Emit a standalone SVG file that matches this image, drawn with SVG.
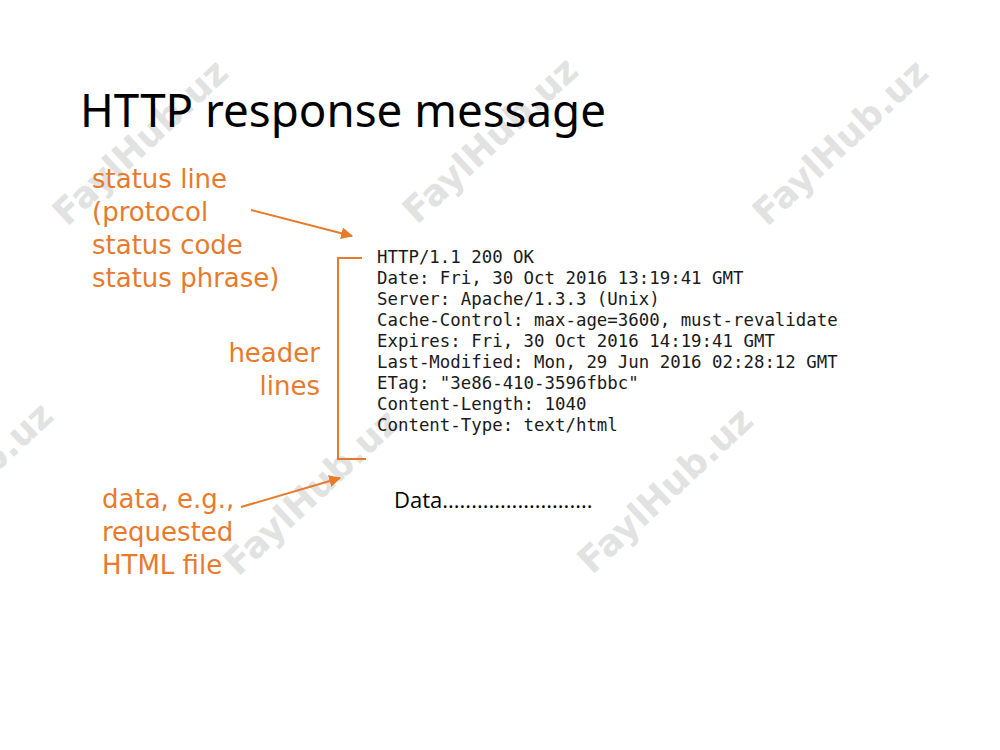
<svg xmlns="http://www.w3.org/2000/svg" width="1000" height="750" viewBox="0 0 1000 750">
  <defs>
    <style>
      .wm { font-family: "DejaVu Sans", "Liberation Sans", sans-serif; font-weight: bold; font-size: 36px; fill: #e2e2e2; text-anchor: middle; }
      .title { font-family: "Noto Sans", "Open Sans", sans-serif; font-size: 45.7px; fill: #000; }
      .lbl { font-family: "DejaVu Sans", "Noto Sans", sans-serif; font-size: 26px; fill: #E87A2C; }
      .code { font-family: "DejaVu Sans Mono", "Liberation Mono", monospace; font-size: 17.4px; fill: #1a1a1a; }
      .data { font-family: "Open Sans", "Noto Sans", sans-serif; font-size: 22px; fill: #000; }
      .conn { stroke: #E87A2C; stroke-width: 2; fill: none; }
    </style>
    <marker id="ah" viewBox="0 0 10 10" refX="9" refY="5" markerWidth="6" markerHeight="6" markerUnits="strokeWidth" orient="auto">
      <path d="M0,0 L10,5 L0,10 z" fill="#E87A2C"/>
    </marker>
  </defs>
  <rect width="1000" height="750" fill="#ffffff"/>

  <g id="watermarks">
    <text class="wm" transform="translate(140,142) rotate(-43)" dy="0.35em">FaylHub.uz</text>
    <text class="wm" transform="translate(490,140) rotate(-43)" dy="0.35em">FaylHub.uz</text>
    <text class="wm" transform="translate(840,142) rotate(-43)" dy="0.35em">FaylHub.uz</text>
    <text class="wm" transform="translate(-35,485) rotate(-43)" dy="0.35em">FaylHub.uz</text>
    <text class="wm" transform="translate(311,492) rotate(-43)" dy="0.35em">FaylHub.uz</text>
    <text class="wm" transform="translate(665,490) rotate(-43)" dy="0.35em">FaylHub.uz</text>
  </g>

  <g id="title">
    <text class="title" x="80" y="127">HTTP response message</text>
  </g>

  <g id="status-label">
    <text class="lbl" x="92" y="188">status line</text>
    <text class="lbl" x="92" y="221">(protocol</text>
    <text class="lbl" x="92" y="254">status code</text>
    <text class="lbl" x="92" y="287">status phrase)</text>
  </g>

  <g id="header-label">
    <text class="lbl" x="320" y="362" text-anchor="end">header</text>
    <text class="lbl" x="320" y="395" text-anchor="end">lines</text>
  </g>

  <g id="data-label">
    <text class="lbl" x="102" y="508">data, e.g.,</text>
    <text class="lbl" x="102" y="541">requested</text>
    <text class="lbl" x="102" y="574">HTML file</text>
  </g>

  <g id="message">
    <text class="code" x="377" y="263">HTTP/1.1 200 OK</text>
    <text class="code" x="377" y="284">Date: Fri, 30 Oct 2016 13:19:41 GMT</text>
    <text class="code" x="377" y="305">Server: Apache/1.3.3 (Unix)</text>
    <text class="code" x="377" y="326">Cache-Control: max-age=3600, must-revalidate</text>
    <text class="code" x="377" y="347">Expires: Fri, 30 Oct 2016 14:19:41 GMT</text>
    <text class="code" x="377" y="368">Last-Modified: Mon, 29 Jun 2016 02:28:12 GMT</text>
    <text class="code" x="377" y="389">ETag: "3e86-410-3596fbbc"</text>
    <text class="code" x="377" y="410">Content-Length: 1040</text>
    <text class="code" x="377" y="431">Content-Type: text/html</text>
  </g>

  <g id="data">
    <text class="data" x="394" y="508">Data..........................</text>
  </g>

  <g id="connectors">
    <line class="conn" x1="251" y1="210" x2="352" y2="236" marker-end="url(#ah)"/>
    <polyline class="conn" points="362,258 338,258 338,459 366,459"/>
    <line class="conn" x1="241" y1="507" x2="340" y2="478" marker-end="url(#ah)"/>
  </g>
</svg>
